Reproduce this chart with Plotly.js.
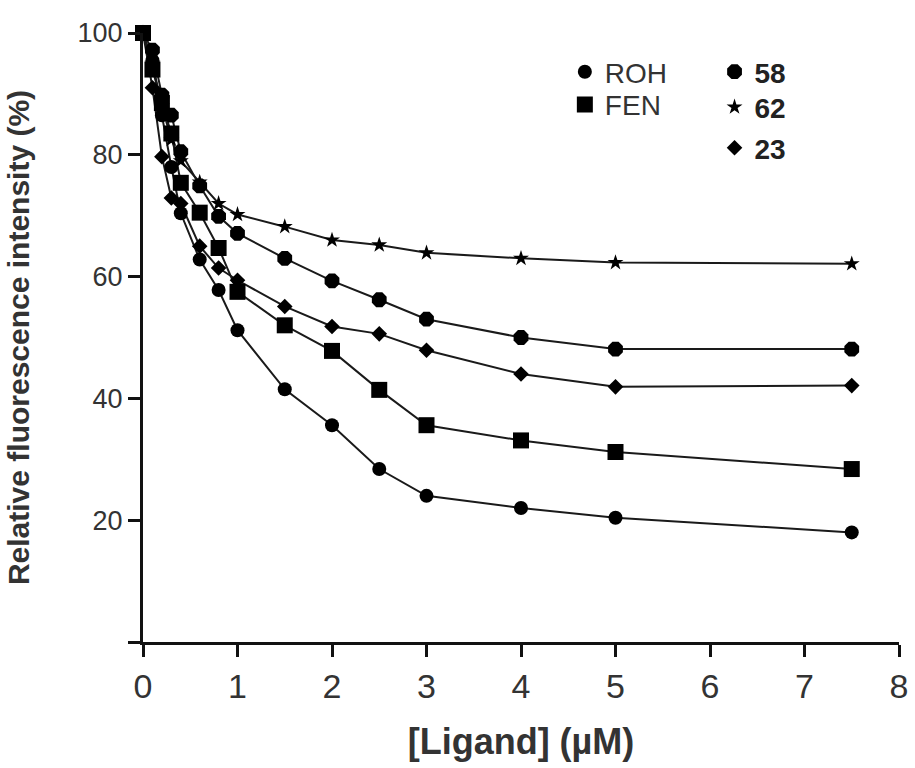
<!DOCTYPE html>
<html>
<head>
<meta charset="utf-8">
<script src="https://cdn.plot.ly/plotly-3.0.1.min.js"></script>
<style>
  html, body { margin: 0; padding: 0; background: #fff; }
  #chart { width: 915px; height: 768px; }
</style>
</head>
<body>
<div id="chart"></div>
<script>
// Ligand concentrations (µM)
const ligandConc = [0, 0.1, 0.2, 0.3, 0.4, 0.6, 0.8, 1, 1.5, 2, 2.5, 3, 4, 5, 7.5];

// Relative fluorescence intensity (%) for each ligand
const rohValues = [100, 95.5, 86.5, 78.0, 70.4, 62.8, 57.8, 51.2, 41.5, 35.6, 28.4, 24.0, 22.0, 20.4, 18.0];
const fenValues = [100, 94.0, 88.5, 83.5, 75.4, 70.5, 64.7, 57.5, 52.0, 47.8, 41.4, 35.6, 33.1, 31.2, 28.4];
const c58Values = [100, 97.2, 89.8, 86.5, 80.5, 74.9, 69.9, 67.1, 63.0, 59.3, 56.2, 53.0, 50.0, 48.1, 48.1];
const c62Values = [100, 95.0, 88.0, 82.5, 79.0, 75.5, 72.0, 70.2, 68.2, 66.0, 65.2, 63.9, 63.0, 62.3, 62.1];
const c23Values = [100, 91.0, 79.7, 72.9, 72.0, 65.0, 61.4, 59.4, 55.1, 51.8, 50.6, 47.9, 44.0, 41.9, 42.1];

const seriesNames = ["ROH", "FEN", "<b>58</b>", "<b>62</b>", "<b>23</b>"];
const seriesValues = [rohValues, fenValues, c58Values, c62Values, c23Values];
const seriesSymbols = ["circle", "square", "octagon", "star", "diamond"];
const seriesSizes = [14, 16, 16, 12, 12];
// one legend box per entry so the key rows can be spaced freely
const seriesLegend = ["legend", "legend2", "legend3", "legend4", "legend5"];

const traces = [];
// connecting curves
seriesValues.forEach((vals) => {
  traces.push({
    x: ligandConc, y: vals, type: "scatter", mode: "lines",
    line: { color: "#1a1a1a", width: 2 },
    showlegend: false, hoverinfo: "skip", cliponaxis: false
  });
});
// data markers
seriesValues.forEach((vals, i) => {
  traces.push({
    x: ligandConc, y: vals, type: "scatter", mode: "markers",
    name: seriesNames[i],
    legend: seriesLegend[i],
    marker: { symbol: seriesSymbols[i], size: seriesSizes[i], color: "#000",
              line: { width: 0 } },
    cliponaxis: false
  });
});

const narrow = "'Liberation Sans Narrow', 'Arial Narrow', Arial, sans-serif";
const sans = "Arial, 'Liberation Sans', sans-serif";

function keyBox(x, y, color) {
  return {
    x: x, y: y, xanchor: "left", yanchor: "middle",
    bgcolor: "rgba(0,0,0,0)", itemsizing: "trace",
    font: { family: sans, size: 28, color: color }
  };
}

const layout = {
  width: 915, height: 768,
  margin: { l: 143, r: 16, t: 33, b: 126 },
  paper_bgcolor: "#fff", plot_bgcolor: "#fff",
  font: { family: sans, color: "#222" },
  xaxis: {
    range: [0, 8], tickvals: [0, 1, 2, 3, 4, 5, 6, 7, 8],
    showline: true, linecolor: "#111", linewidth: 3,
    ticks: "outside", ticklen: 12, tickwidth: 3, tickcolor: "#111",
    showgrid: false, zeroline: false,
    tickfont: { family: narrow, size: 34, color: "#333" },
    title: { text: "<b>[Ligand] (\u00B5M)</b>", font: { family: sans, size: 36, color: "#333" }, standoff: 26 }
  },
  yaxis: {
    range: [0, 100], tickvals: [0, 20, 40, 60, 80, 100],
    ticktext: ["", "20", "40", "60", "80", "100"],
    showline: true, linecolor: "#111", linewidth: 3,
    ticks: "outside", ticklen: 12, tickwidth: 3, tickcolor: "#111",
    showgrid: false, zeroline: false,
    tickfont: { family: narrow, size: 27, color: "#333" },
    title: { text: "<b>Relative fluorescence intensity (%)</b>", font: { family: sans, size: 30, color: "#333" }, standoff: 40 }
  },
  legend: keyBox(0.558, 0.936, "#333"),
  legend2: keyBox(0.558, 0.882, "#333"),
  legend3: keyBox(0.756, 0.936, "#222"),
  legend4: keyBox(0.756, 0.878, "#222"),
  legend5: keyBox(0.756, 0.811, "#222"),
  showlegend: true
};

Plotly.newPlot("chart", traces, layout, { displayModeBar: false, staticPlot: true });
</script>
</body>
</html>
